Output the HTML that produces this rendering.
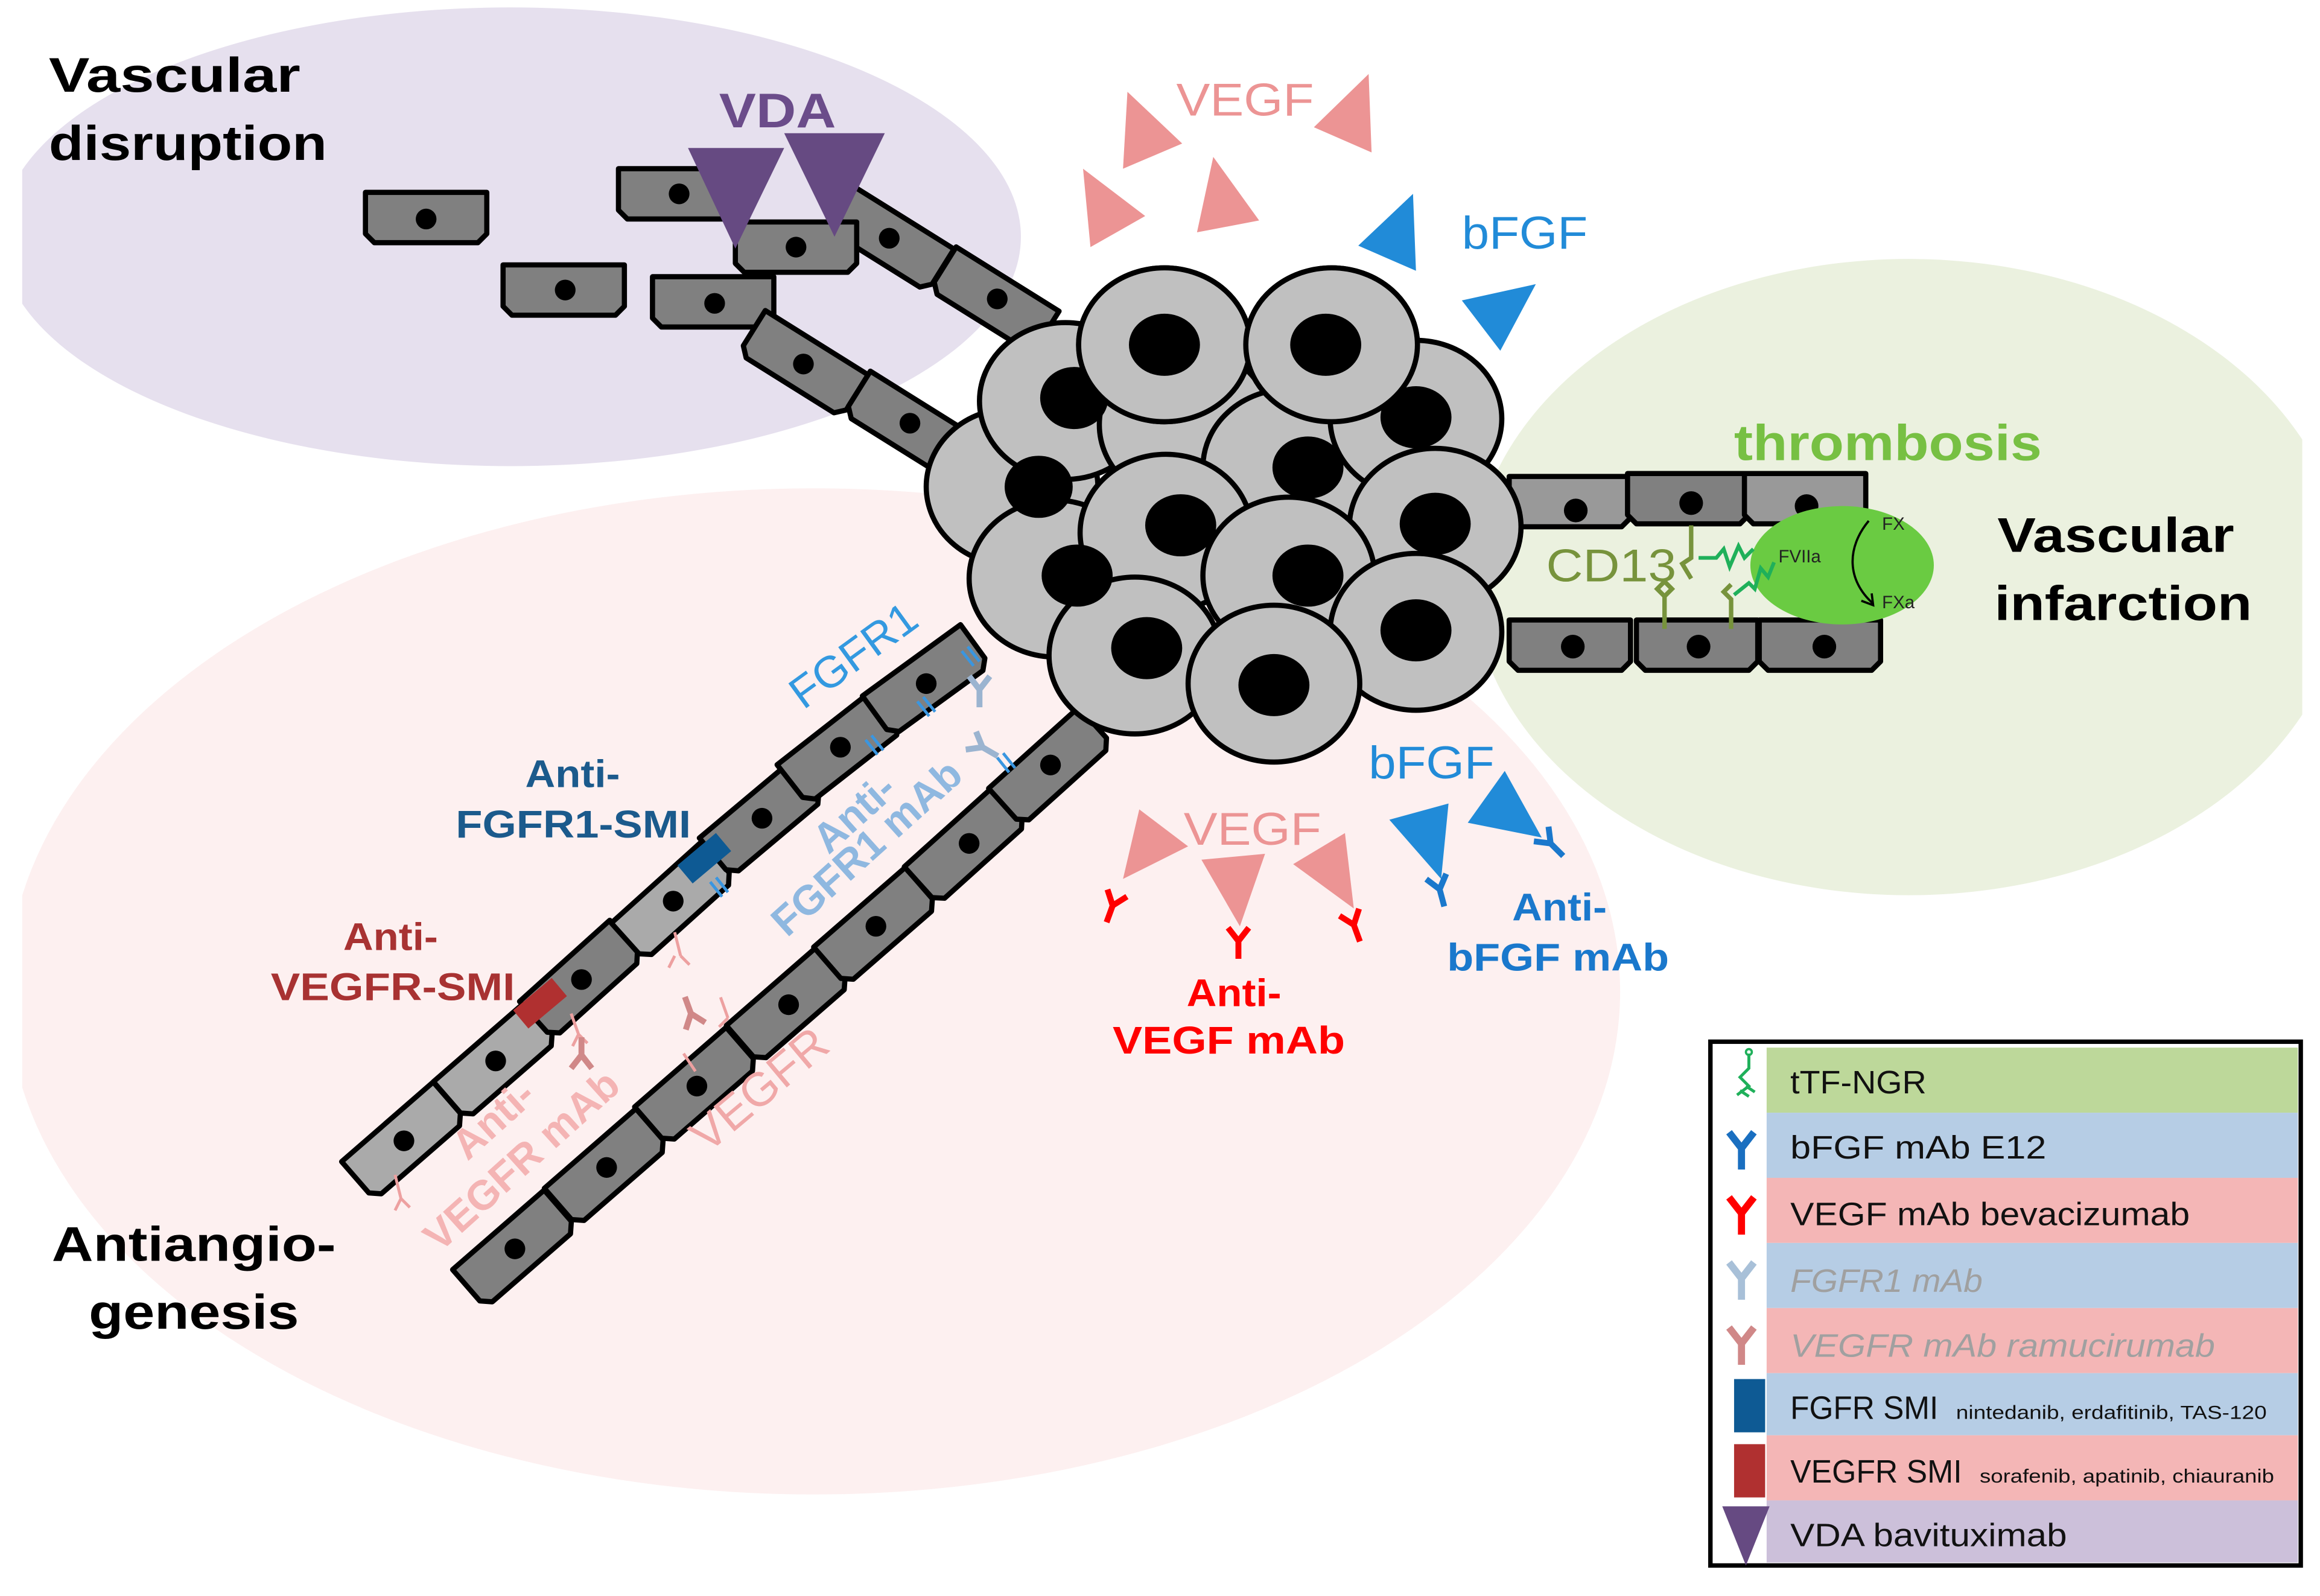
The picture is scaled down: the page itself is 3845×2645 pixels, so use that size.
<!DOCTYPE html>
<html><head><meta charset="utf-8"><style>
html,body{margin:0;padding:0;background:#fff}
svg{display:block}
text{font-family:"Liberation Sans",Arial,sans-serif}
</style></head><body>
<svg width="3845" height="2645" viewBox="0 0 1568 1078.6" xmlns="http://www.w3.org/2000/svg">
<defs>
<clipPath id="cl"><rect x="15" y="0" width="1541" height="1078"/></clipPath>
<polygon id="cell" points="-41,-17 41,-17 41,11 35,17 -35,17 -41,11" stroke="#000" stroke-width="3.5" stroke-linejoin="round"/>
<g id="ab"><path d="M0,12 V0 M0,0 L-7,-9 M0,0 L7,-9" fill="none" stroke-width="4" stroke-linecap="butt"/></g>
</defs>
<rect width="1568" height="1079" fill="#fff"/>
<g clip-path="url(#cl)">
<ellipse cx="550" cy="670" rx="545" ry="340" fill="#fdf0f0"/>
<ellipse cx="345" cy="160" rx="345" ry="155" fill="#e6e0ee"/>
<ellipse cx="1290" cy="390" rx="295" ry="215" fill="#ebf1df"/>
</g>

<g fill="#808080">
<use href="#cell" transform="translate(288,147)"/>
<use href="#cell" transform="translate(381,196)"/>
<use href="#cell" transform="translate(459,131)"/>
<use href="#cell" transform="translate(482,204)"/>
<use href="#cell" transform="translate(601,161) rotate(32)"/>
<use href="#cell" transform="translate(672,203) rotate(32)"/>
<use href="#cell" transform="translate(543,246) rotate(32)"/>
<use href="#cell" transform="translate(614,287) rotate(32)"/>
<use href="#cell" transform="translate(538,167)"/>
</g>
<g fill="#000">
<circle cx="288" cy="148" r="7"/><circle cx="382" cy="196" r="7"/><circle cx="459" cy="131" r="7"/>
<circle cx="483" cy="205" r="7"/><circle cx="601" cy="161" r="7"/><circle cx="674" cy="202" r="7"/>
<circle cx="543" cy="246" r="7"/><circle cx="615" cy="286" r="7"/><circle cx="538" cy="167" r="7"/>
</g>
<g fill="#664a82">
<polygon points="465,100 530,100 497,168"/>
<polygon points="530,90 598,90 564,160"/>
</g>

<g fill="#999">
<use href="#cell" transform="translate(1061,339)"/>
<use href="#cell" transform="translate(1141,337)" fill="#808080"/>
<use href="#cell" transform="translate(1220,337)"/>
<use href="#cell" transform="translate(1061,436)" fill="#808080"/>
<use href="#cell" transform="translate(1147,436)" fill="#808080"/>
<use href="#cell" transform="translate(1230,436)" fill="#808080"/>
</g>
<g fill="#000">
<circle cx="1065" cy="345" r="8"/><circle cx="1143" cy="340" r="8"/><circle cx="1221" cy="342" r="8"/>
<circle cx="1063" cy="437" r="8"/><circle cx="1148" cy="437" r="8"/><circle cx="1233" cy="437" r="8"/>
</g>

<g>
<use href="#cell" fill="#aaa" transform="translate(273,771) rotate(-41)"/>
<use href="#cell" fill="#aaa" transform="translate(335,717) rotate(-41)"/>
<use href="#cell" fill="#808080" transform="translate(393,662) rotate(-42)"/>
<use href="#cell" fill="#aaa" transform="translate(455,609) rotate(-42)"/>
<use href="#cell" fill="#808080" transform="translate(515,553) rotate(-40)"/>
<use href="#cell" fill="#808080" transform="translate(568,505) rotate(-38)"/>
<use href="#cell" fill="#808080" transform="translate(626,460) rotate(-36)"/>
<use href="#cell" fill="#808080" transform="translate(348,844) rotate(-41)"/>
<use href="#cell" fill="#808080" transform="translate(410,789) rotate(-41)"/>
<use href="#cell" fill="#808080" transform="translate(471,734) rotate(-41)"/>
<use href="#cell" fill="#808080" transform="translate(533,679) rotate(-41)"/>
<use href="#cell" fill="#808080" transform="translate(592,626) rotate(-41)"/>
<use href="#cell" fill="#808080" transform="translate(653,571) rotate(-42)"/>
<use href="#cell" fill="#808080" transform="translate(710,518) rotate(-42)"/>
</g>
<g fill="#000">
<circle cx="273" cy="771" r="7"/><circle cx="335" cy="717" r="7"/><circle cx="393" cy="662" r="7"/>
<circle cx="455" cy="609" r="7"/><circle cx="515" cy="553" r="7"/><circle cx="568" cy="505" r="7"/>
<circle cx="626" cy="462" r="7"/>
<circle cx="348" cy="844" r="7"/><circle cx="410" cy="789" r="7"/><circle cx="471" cy="734" r="7"/>
<circle cx="533" cy="679" r="7"/><circle cx="592" cy="626" r="7"/><circle cx="655" cy="570" r="7"/>
<circle cx="710" cy="517" r="7"/>
</g>
<rect x="-17" y="-8" width="34" height="16" fill="#b03030" transform="translate(365,678) rotate(-40)"/>
<rect x="-17" y="-8" width="34" height="16" fill="#0e5a94" transform="translate(476,580) rotate(-40)"/>

<g stroke="#3a96e0" stroke-width="2">
<path d="M480,596 l8,10 M484,593 l8,10"/><path d="M585,500 l8,10 M589,497 l8,10"/>
<path d="M620,474 l8,10 M624,471 l8,10"/><path d="M650,440 l8,10 M654,437 l8,10"/>
<path d="M674,512 l8,10 M678,509 l8,10"/>
</g>
<g stroke="#9bb4d0"><use href="#ab" transform="translate(662,466) rotate(0)"/><use href="#ab" transform="translate(664,505) rotate(-60)"/></g>
<g stroke="#eda0a0" stroke-width="2">
<path d="M456,630 l4,16 M456,646 l-4,8 M460,646 l6,6"/>
<path d="M267,794 l4,16 M271,810 l-4,8 M271,810 l6,6"/>
<path d="M386,685 l5,14 M391,699 l-4,8 M391,699 l6,6"/>
<path d="M487,674 l5,14 M492,688 l-6,6"/>
<path d="M462,712 l8,12"/>
</g>
<g stroke="#d08888"><use href="#ab" transform="translate(393,713) rotate(180)"/><use href="#ab" transform="translate(467,685) rotate(160)"/></g>

<g stroke="#000" stroke-width="3.5" fill="#c0c0c0">
<ellipse cx="684" cy="329" rx="58" ry="53"/>
<ellipse cx="720" cy="271" rx="58" ry="53"/>
<ellipse cx="801" cy="287" rx="58" ry="53"/>
<ellipse cx="787" cy="233" rx="58" ry="52"/>
<ellipse cx="900" cy="233" rx="58" ry="52"/>
<ellipse cx="871" cy="316" rx="58" ry="53"/>
<ellipse cx="957" cy="283" rx="58" ry="53"/>
<ellipse cx="970" cy="356" rx="58" ry="53"/>
<ellipse cx="713" cy="391" rx="58" ry="53"/>
<ellipse cx="788" cy="360" rx="58" ry="53"/>
<ellipse cx="871" cy="389" rx="58" ry="53"/>
<ellipse cx="767" cy="443" rx="58" ry="53"/>
<ellipse cx="957" cy="427" rx="58" ry="53"/>
<ellipse cx="861" cy="462" rx="58" ry="53"/>
</g>
<g fill="#000">
<ellipse cx="702" cy="329" rx="23" ry="21"/>
<ellipse cx="726" cy="269" rx="23" ry="21"/>
<ellipse cx="884" cy="316" rx="24" ry="21"/>
<ellipse cx="957" cy="282" rx="24" ry="21"/>
<ellipse cx="970" cy="354" rx="24" ry="21"/>
<ellipse cx="798" cy="355" rx="24" ry="21"/>
<ellipse cx="728" cy="389" rx="24" ry="21"/>
<ellipse cx="884" cy="389" rx="24" ry="21"/>
<ellipse cx="775" cy="438" rx="24" ry="21"/>
<ellipse cx="957" cy="426" rx="24" ry="21"/>
<ellipse cx="861" cy="463" rx="24" ry="21"/>
</g>
<g stroke="#000" stroke-width="3.5" fill="#c0c0c0">
<ellipse cx="787" cy="233" rx="58" ry="52"/>
<ellipse cx="900" cy="233" rx="58" ry="52"/>
</g>
<g fill="#000"><ellipse cx="787" cy="233" rx="24" ry="21"/><ellipse cx="896" cy="233" rx="24" ry="21"/></g>

<ellipse cx="1245" cy="382" rx="62" ry="40" fill="#6acb42"/>
<g fill="none" stroke="#77933c" stroke-width="3">
<path d="M1143,355 v22 l-6,4 l6,10"/><path d="M1125,425 v-22 l-5,-5 l5,-5 l5,5 l-5,5"/>
<path d="M1170,425 v-20 l-5,-5 l5,-5"/>
</g>
<g fill="none" stroke="#1fb05a" stroke-width="2.5">
<path d="M1148,377 h12 l5,-6 l4,12 l6,-14 l4,8 l6,-6"/>
<path d="M1172,402 l10,-8 l4,4 l4,-14 l5,6 l4,-10"/>
</g>
<path d="M1263,352 C1248,370 1248,392 1266,408" fill="none" stroke="#000" stroke-width="1.5"/>
<path d="M1258,406 l8,3 l-1,-8" fill="none" stroke="#000" stroke-width="1.5"/>
<text x="1272" y="358" font-size="12" fill="#222">FX</text>
<text x="1202" y="380" font-size="12" fill="#222">FVIIa</text>
<text x="1272" y="411" font-size="12" fill="#222">FXa</text>
<text x="1045" y="393" font-size="31" fill="#77933c" textLength="88" lengthAdjust="spacingAndGlyphs">CD13</text>
<text x="1172" y="311" font-size="34" font-weight="bold" fill="#77c043" textLength="208" lengthAdjust="spacingAndGlyphs">thrombosis</text>

<g fill="#ec9494">
<polygon points="762,62 799,97 759,114"/><polygon points="925,50 927,103 888,86"/>
<polygon points="732,114 774,146 737,167"/><polygon points="820,106 851,149 809,157"/>
<polygon points="770,547 803,572 759,594"/><polygon points="812,581 855,577 838,626"/>
<polygon points="909,563 915,614 874,584"/>
</g>
<g fill="#218bd8">
<polygon points="955,131 957,183 918,166"/><polygon points="1038,192 988,203 1014,237"/>
<polygon points="939,554 979,543 974,594"/><polygon points="1017,521 1042,566 992,556"/>
</g>
<g font-size="31" lengthAdjust="spacingAndGlyphs">
<text x="795" y="78" fill="#ec9494" textLength="93" lengthAdjust="spacingAndGlyphs">VEGF</text>
<text x="988" y="168" fill="#218bd8" textLength="85" lengthAdjust="spacingAndGlyphs">bFGF</text>
<text x="925" y="526" fill="#218bd8" textLength="85" lengthAdjust="spacingAndGlyphs">bFGF</text>
<text x="800" y="571" fill="#ec9494" textLength="93" lengthAdjust="spacingAndGlyphs">VEGF</text>
</g>

<g stroke="#ff0000" stroke-width="5">
<use href="#ab" transform="translate(752,612) rotate(20)" />
<use href="#ab" transform="translate(837,636)"/>
<use href="#ab" transform="translate(915,625) rotate(-20)"/>
</g>
<g stroke="#1a78cc" stroke-width="5">
<use href="#ab" transform="translate(973,601) rotate(-15)"/>
<use href="#ab" transform="translate(1048,570) rotate(-45)"/>
</g>

<g font-weight="bold" font-size="33" fill="#000">
<text x="33" y="62" textLength="170" lengthAdjust="spacingAndGlyphs">Vascular</text>
<text x="33" y="108" textLength="188" lengthAdjust="spacingAndGlyphs">disruption</text>
<text x="1350" y="373" textLength="160" lengthAdjust="spacingAndGlyphs">Vascular</text>
<text x="1348" y="419" textLength="174" lengthAdjust="spacingAndGlyphs">infarction</text>
<text x="35" y="852" textLength="192" lengthAdjust="spacingAndGlyphs">Antiangio-</text>
<text x="60" y="898" textLength="142" lengthAdjust="spacingAndGlyphs">genesis</text>
</g>
<text x="486" y="86" font-size="33" font-weight="bold" fill="#6b4c8a" textLength="79" lengthAdjust="spacingAndGlyphs">VDA</text>
<g font-weight="bold" font-size="26">
<text x="802" y="680" fill="#ff0000" textLength="64" lengthAdjust="spacingAndGlyphs">Anti-</text>
<text x="752" y="712" fill="#ff0000" textLength="157" lengthAdjust="spacingAndGlyphs">VEGF mAb</text>
<text x="1022" y="622" fill="#1a78cc" textLength="64" lengthAdjust="spacingAndGlyphs">Anti-</text>
<text x="978" y="656" fill="#1a78cc" textLength="150" lengthAdjust="spacingAndGlyphs">bFGF mAb</text>
<text x="355" y="532" fill="#1b5a8c" textLength="64" lengthAdjust="spacingAndGlyphs">Anti-</text>
<text x="308" y="566" fill="#1b5a8c" textLength="159" lengthAdjust="spacingAndGlyphs">FGFR1-SMI</text>
<text x="232" y="642" fill="#a83232" textLength="64" lengthAdjust="spacingAndGlyphs">Anti-</text>
<text x="183" y="676" fill="#a83232" textLength="165" lengthAdjust="spacingAndGlyphs">VEGFR-SMI</text>
</g>
<text transform="translate(543,480) rotate(-36)" font-size="30" fill="#3399e0">FGFR1</text>
<text transform="translate(560,578) rotate(-42)" font-size="28" fill="#8fb8e0" font-weight="bold">Anti-</text>
<text transform="translate(532,634) rotate(-42)" font-size="28" fill="#8fb8e0" font-weight="bold">FGFR1 mAb</text>
<text transform="translate(478,780) rotate(-40)" font-size="32" fill="#f0a8a8">VEGFR</text>
<text transform="translate(316,785) rotate(-42)" font-size="28" fill="#f4b4b4" font-weight="bold">Anti-</text>
<text transform="translate(297,847) rotate(-42)" font-size="28" fill="#f4b4b4" font-weight="bold">VEGFR mAb</text>

<rect x="1156" y="704" width="399" height="354" fill="#fff" stroke="#000" stroke-width="3"/>
<rect x="1194" y="708" width="359" height="44" fill="#bdd89a"/>
<rect x="1194" y="752" width="359" height="44" fill="#b6cde5"/>
<rect x="1194" y="796" width="359" height="44" fill="#f4b6b6"/>
<rect x="1194" y="840" width="359" height="44" fill="#b6cde5"/>
<rect x="1194" y="884" width="359" height="44" fill="#f4b6b6"/>
<rect x="1194" y="928" width="359" height="42" fill="#b6cde5"/>
<rect x="1194" y="970" width="359" height="44" fill="#f4b6b6"/>
<rect x="1194" y="1014" width="359" height="42" fill="#ccc0da"/>
<g font-size="22">
<text x="1210" y="739" fill="#111" textLength="92" lengthAdjust="spacingAndGlyphs">tTF-NGR</text>
<text x="1210" y="783" fill="#111" textLength="173" lengthAdjust="spacingAndGlyphs">bFGF mAb  E12</text>
<text x="1210" y="828" fill="#111" textLength="270" lengthAdjust="spacingAndGlyphs">VEGF mAb  bevacizumab</text>
<text x="1210" y="873" fill="#a0a0a0" font-style="italic" textLength="130" lengthAdjust="spacingAndGlyphs">FGFR1 mAb</text>
<text x="1210" y="917" fill="#a0a0a0" font-style="italic" textLength="287" lengthAdjust="spacingAndGlyphs">VEGFR mAb  ramucirumab</text>
<text x="1210" y="959" fill="#111" textLength="100" lengthAdjust="spacingAndGlyphs">FGFR SMI</text>
<text x="1322" y="959" fill="#111" font-size="13" textLength="210" lengthAdjust="spacingAndGlyphs">nintedanib, erdafitinib, TAS-120</text>
<text x="1210" y="1002" fill="#111" textLength="116" lengthAdjust="spacingAndGlyphs">VEGFR SMI</text>
<text x="1338" y="1002" fill="#111" font-size="13" textLength="199" lengthAdjust="spacingAndGlyphs">sorafenib, apatinib, chiauranib</text>
<text x="1210" y="1045" fill="#111" textLength="187" lengthAdjust="spacingAndGlyphs">VDA  bavituximab</text>
</g>
<path d="M1182,712 v10 l-6,6 l6,6 l-8,6 M1180,734 l6,4 M1176,737 l6,4" fill="none" stroke="#1fb05a" stroke-width="2"/>
<circle cx="1182" cy="711" r="2" fill="none" stroke="#1fb05a" stroke-width="1.5"/>
<g stroke-width="5"><use href="#ab" stroke="#1a6fc0" transform="translate(1177,776) scale(1.2)"/>
<use href="#ab" stroke="#ff0000" transform="translate(1177,820) scale(1.2)"/>
<use href="#ab" stroke="#a8c0d8" transform="translate(1177,864) scale(1.2)"/>
<use href="#ab" stroke="#d08888" transform="translate(1177,908) scale(1.2)"/></g>
<rect x="1172" y="932" width="21" height="36" fill="#0e5a94"/>
<rect x="1172" y="976" width="21" height="36" fill="#b03030"/>
<polygon points="1164,1018 1196,1018 1180,1058" fill="#664a82"/>
</svg>
</body></html>
